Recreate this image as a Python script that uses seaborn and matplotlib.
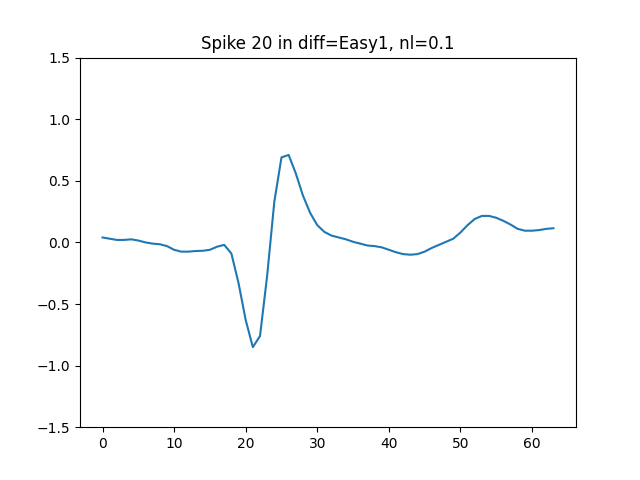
import numpy as np
import pandas as pd
import seaborn as sns
import matplotlib
matplotlib.use('Agg')
import matplotlib.pyplot as plt

# Waveform samples
sample = list(range(64))
amplitude = [0.04, 0.03, 0.02, 0.02, 0.025, 0.015, 0.0, -0.01, -0.015, -0.03,
             -0.06, -0.075, -0.075, -0.07, -0.068, -0.06, -0.035, -0.02, -0.09, -0.33,
             -0.63, -0.85, -0.76, -0.27, 0.33, 0.69, 0.71, 0.56, 0.38, 0.24,
             0.14, 0.085, 0.055, 0.04, 0.025, 0.005, -0.01, -0.025, -0.03, -0.04,
             -0.06, -0.08, -0.095, -0.1, -0.095, -0.075, -0.045, -0.02, 0.005, 0.03,
             0.08, 0.14, 0.19, 0.215, 0.215, 0.2, 0.175, 0.145, 0.11, 0.095,
             0.095, 0.1, 0.11, 0.115]

df = pd.DataFrame({'sample': sample, 'amplitude': amplitude})

fig, ax = plt.subplots(figsize=(6.4, 4.8), dpi=100)
sns.lineplot(data=df, x='sample', y='amplitude', ax=ax, color='#1f77b4')
ax.set_ylim(-1.5, 1.5)
ax.set_xlabel('')
ax.set_ylabel('')
ax.set_title('Spike 20 in diff=Easy1, nl=0.1')
fig.savefig('out.png')
